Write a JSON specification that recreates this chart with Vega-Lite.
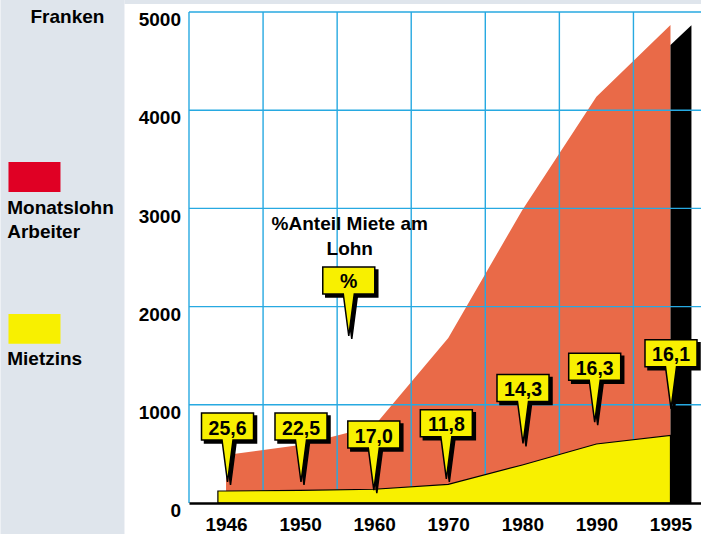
{
  "$schema": "https://vega.github.io/schema/vega-lite/v6.json",
  "width": 512,
  "height": 491,
  "padding": 0,
  "background": "white",
  "autosize": {"type": "pad"},
  "config": {
    "view": {"stroke": null},
    "font": "Liberation Sans",
    "text": {"font": "Liberation Sans", "fontWeight": "bold", "fontSize": 19, "color": "#000"}
  },
  "datasets": {
    "lohn": [
      {"jahr": "1946", "pos": 0, "franken": 489},
      {"jahr": "1950", "pos": 1, "franken": 591},
      {"jahr": "1960", "pos": 2, "franken": 784},
      {"jahr": "1970", "pos": 3, "franken": 1680},
      {"jahr": "1980", "pos": 4, "franken": 2984},
      {"jahr": "1990", "pos": 5, "franken": 4137},
      {"jahr": "1995", "pos": 6, "franken": 4867}
    ],
    "miete": [
      {"jahr": "", "pos": -0.11, "franken": 122},
      {"jahr": "1946", "pos": 0, "franken": 122},
      {"jahr": "1950", "pos": 1, "franken": 129},
      {"jahr": "1960", "pos": 2, "franken": 140},
      {"jahr": "1970", "pos": 3, "franken": 190},
      {"jahr": "1980", "pos": 4, "franken": 387},
      {"jahr": "1990", "pos": 5, "franken": 601},
      {"jahr": "1995", "pos": 6, "franken": 689}
    ],
    "seite": [
      {"pos": 6, "franken": 4664},
      {"pos": 6.283, "franken": 4864}
    ],
    "gitter_h": [
      {"franken": 1000}, {"franken": 2000}, {"franken": 3000}, {"franken": 4000}, {"franken": 5000}
    ],
    "gitter_v": [
      {"pos": -0.5}, {"pos": 0.5}, {"pos": 1.5}, {"pos": 2.5}, {"pos": 3.5}, {"pos": 4.5}, {"pos": 5.5}
    ],
    "anteil": [
      {"pos": 0.02, "franken": 779, "label": "25,6"},
      {"pos": 1.012, "franken": 779, "label": "22,5"},
      {"pos": 1.995, "franken": 697, "label": "17,0"},
      {"pos": 2.974, "franken": 811, "label": "11,8"},
      {"pos": 4.009, "franken": 1171, "label": "14,3"},
      {"pos": 4.977, "franken": 1388, "label": "16,3"},
      {"pos": 6.007, "franken": 1524, "label": "16,1"},
      {"pos": 1.657, "franken": 2266, "label": "%"}
    ]
  },
  "layer": [
    {
      "data": {"values": [{}]},
      "mark": {"type": "rect", "color": "#DFE5EC", "clip": false},
      "encoding": {
        "x": {"datum": -3.045, "type": "quantitative", "title": null},
        "x2": {"datum": -1.371},
        "y": {"datum": 5122, "type": "quantitative", "title": null},
        "y2": {"datum": -316}
      }
    },
    {
      "data": {"values": [{}]},
      "mark": {"type": "rect", "color": "#DFE5EC", "clip": false},
      "encoding": {
        "x": {"datum": -1.371, "type": "quantitative", "title": null},
        "x2": {"datum": 6.412},
        "y": {"datum": 5122, "type": "quantitative", "title": null},
        "y2": {"datum": 5081}
      }
    },
    {
      "data": {"name": "lohn"},
      "mark": {"type": "area", "color": "#E96A48", "opacity": 1},
      "encoding": {
        "x": {
          "field": "pos", "type": "quantitative", "title": null,
          "scale": {"domain": [-0.5, 6.412], "nice": false, "zero": false},
          "axis": {
            "values": [0, 1, 2, 3, 4, 5, 6],
            "labelExpr": "['1946','1950','1960','1970','1980','1990','1995'][datum.value]",
            "grid": false, "ticks": false, "tickSize": 0,
            "domain": true, "domainColor": "#000", "domainWidth": 2.5,
            "labelFont": "Liberation Sans", "labelFontSize": 19, "labelFontWeight": "bold", "labelColor": "#000",
            "labelBaseline": "alphabetic", "labelPadding": 27, "labelFlush": false, "labelOverlap": false,
            "zindex": 1
          }
        },
        "y": {
          "field": "franken", "type": "quantitative", "title": null,
          "scale": {"domain": [0, 5000], "nice": false},
          "axis": {
            "values": [0, 1000, 2000, 3000, 4000, 5000],
            "format": "d",
            "grid": false, "ticks": false, "tickSize": 0, "domain": false,
            "labelFont": "Liberation Sans", "labelFontSize": 19, "labelFontWeight": "bold", "labelColor": "#000",
            "labelBaseline": "alphabetic", "labelOffset": 13.6, "labelPadding": 8.5, "labelOverlap": false, "labelFlush": false
          }
        }
      }
    },
    {
      "data": {"name": "seite"},
      "mark": {"type": "area", "color": "#000"},
      "encoding": {
        "x": {"field": "pos", "type": "quantitative", "title": null},
        "y": {"field": "franken", "type": "quantitative", "title": null}
      }
    },
    {
      "data": {"name": "gitter_v"},
      "mark": {"type": "rule", "color": "#27A9E1", "strokeWidth": 1.4},
      "encoding": {
        "x": {"field": "pos", "type": "quantitative", "title": null},
        "y": {"datum": 0, "type": "quantitative", "title": null},
        "y2": {"datum": 5000}
      }
    },
    {
      "data": {"name": "gitter_h"},
      "mark": {"type": "rule", "color": "#27A9E1", "strokeWidth": 1.4},
      "encoding": {
        "y": {"field": "franken", "type": "quantitative", "title": null},
        "x": {"datum": -0.5, "type": "quantitative", "title": null},
        "x2": {"datum": 6.412}
      }
    },
    {
      "data": {"name": "miete"},
      "mark": {"type": "area", "color": "#F8F000", "stroke": "#000", "strokeWidth": 1.2, "opacity": 1},
      "encoding": {
        "x": {"field": "pos", "type": "quantitative", "title": null},
        "y": {"field": "franken", "type": "quantitative", "title": null}
      }
    },
    {
      "data": {"name": "anteil"},
      "mark": {
        "type": "point", "filled": true, "fill": "#000", "stroke": "#000", "strokeWidth": 1.5,
        "opacity": 1, "fillOpacity": 1, "strokeOpacity": 1,
        "shape": "M-0.743,-0.386 L0.743,-0.386 L0.743,0.386 L0.157,0.386 L0,1.586 L-0.157,0.386 L-0.743,0.386 Z",
        "size": 4900, "xOffset": 3, "yOffset": 3
      },
      "encoding": {
        "x": {"field": "pos", "type": "quantitative", "title": null},
        "y": {"field": "franken", "type": "quantitative", "title": null}
      }
    },
    {
      "data": {"name": "anteil"},
      "mark": {
        "type": "point", "filled": true, "fill": "#F8F000", "stroke": "#000", "strokeWidth": 1.5,
        "opacity": 1, "fillOpacity": 1, "strokeOpacity": 1, "strokeJoin": "miter",
        "shape": "M-0.743,-0.386 L0.743,-0.386 L0.743,0.386 L0.157,0.386 L0,1.586 L-0.157,0.386 L-0.743,0.386 Z",
        "size": 4900
      },
      "encoding": {
        "x": {"field": "pos", "type": "quantitative", "title": null},
        "y": {"field": "franken", "type": "quantitative", "title": null}
      }
    },
    {
      "data": {"name": "anteil"},
      "mark": {"type": "text", "fontSize": 19.5, "fontWeight": "bold", "baseline": "alphabetic", "align": "center", "dy": 8},
      "encoding": {
        "x": {"field": "pos", "type": "quantitative", "title": null},
        "y": {"field": "franken", "type": "quantitative", "title": null},
        "text": {"field": "label"}
      }
    },
    {
      "data": {"values": [{}]},
      "mark": {"type": "rect", "color": "#E00024", "clip": false},
      "encoding": {
        "x": {"datum": -2.937, "type": "quantitative", "title": null},
        "x2": {"datum": -2.235},
        "y": {"datum": 3472, "type": "quantitative", "title": null},
        "y2": {"datum": 3167}
      }
    },
    {
      "data": {"values": [{}]},
      "mark": {"type": "rect", "color": "#F8F000", "clip": false},
      "encoding": {
        "x": {"datum": -2.937, "type": "quantitative", "title": null},
        "x2": {"datum": -2.235},
        "y": {"datum": 1925, "type": "quantitative", "title": null},
        "y2": {"datum": 1622}
      }
    },
    {
      "data": {"values": [{}]},
      "mark": {"type": "text", "text": "Franken", "align": "left", "baseline": "alphabetic", "fontSize": 19, "fontWeight": "bold", "clip": false},
      "encoding": {
        "x": {"datum": -2.64, "type": "quantitative", "title": null},
        "y": {"datum": 4889, "type": "quantitative", "title": null}
      }
    },
    {
      "data": {"values": [{}]},
      "mark": {"type": "text", "text": ["Monatslohn", "Arbeiter"], "lineHeight": 24, "align": "left", "baseline": "alphabetic", "fontSize": 19, "fontWeight": "bold", "clip": false},
      "encoding": {
        "x": {"datum": -2.954, "type": "quantitative", "title": null},
        "y": {"datum": 2947, "type": "quantitative", "title": null}
      }
    },
    {
      "data": {"values": [{}]},
      "mark": {"type": "text", "text": "Mietzins", "align": "left", "baseline": "alphabetic", "fontSize": 19, "fontWeight": "bold", "clip": false},
      "encoding": {
        "x": {"datum": -2.954, "type": "quantitative", "title": null},
        "y": {"datum": 1402, "type": "quantitative", "title": null}
      }
    },
    {
      "data": {"values": [{}]},
      "mark": {"type": "text", "text": ["%Anteil Miete am", "Lohn"], "lineHeight": 25, "align": "center", "baseline": "alphabetic", "fontSize": 19, "fontWeight": "bold"},
      "encoding": {
        "x": {"datum": 1.67, "type": "quantitative", "title": null},
        "y": {"datum": 2777, "type": "quantitative", "title": null}
      }
    }
  ]
}
